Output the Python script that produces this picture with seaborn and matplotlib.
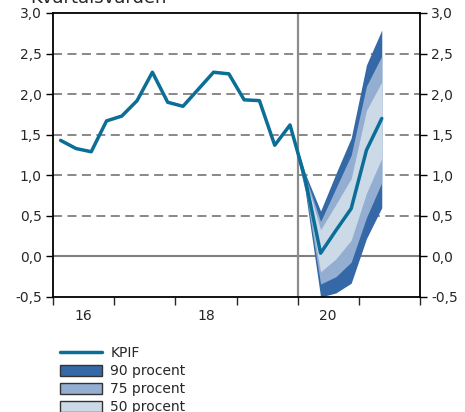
import numpy as np
import pandas as pd
import matplotlib
matplotlib.use("Agg")
import matplotlib.pyplot as plt
from matplotlib.lines import Line2D
from matplotlib.patches import Patch
import seaborn as sns

# ---- data ----
years = [2016, 2017, 2018, 2019, 2020, 2021]
kpif_quarters = ["2016Q1", "2016Q2", "2016Q3", "2016Q4", "2017Q1", "2017Q2", "2017Q3", "2017Q4",
                 "2018Q1", "2018Q2", "2018Q3", "2018Q4", "2019Q1", "2019Q2", "2019Q3", "2019Q4",
                 "2020Q1", "2020Q2", "2020Q3", "2020Q4", "2021Q1", "2021Q2"]
kpif = [1.43, 1.33, 1.29, 1.67, 1.73, 1.92, 2.27, 1.90, 1.85, 2.06, 2.27, 2.25,
        1.93, 1.92, 1.37, 1.62, 0.95, 0.04, 0.32, 0.59, 1.31, 1.70]
fan_quarters = ["2019Q4", "2020Q1", "2020Q2", "2020Q3", "2020Q4", "2021Q1", "2021Q2"]
hi90 = [1.62, 1.02, 0.56, 1.02, 1.46, 2.36, 2.79]
hi75 = [1.62, 0.99, 0.43, 0.84, 1.25, 2.10, 2.47]
hi50 = [1.62, 0.97, 0.33, 0.64, 0.96, 1.80, 2.15]
lo50 = [1.62, 0.90, -0.19, -0.03, 0.20, 0.78, 1.21]
lo75 = [1.62, 0.85, -0.34, -0.25, -0.07, 0.48, 0.91]
lo90 = [1.62, 0.80, -0.50, -0.45, -0.33, 0.22, 0.60]
year_labels = ["16", "18", "20"]
y_ticks = [-0.5, 0.0, 0.5, 1.0, 1.5, 2.0, 2.5, 3.0]
legend_labels = ["KPIF", "90 procent", "75 procent", "50 procent"]


def qpos(q):
    y, qq = q.split("Q")
    return int(y) + (int(qq) - 0.5) / 4.0


df = pd.DataFrame({"t": [qpos(q) for q in kpif_quarters], "KPIF": kpif})
ft = [qpos(q) for q in fan_quarters]

sns.set_style("white")
plt.rcParams["font.family"] = ["DejaVu Sans"]

line_c = "#0b6e96"
dark_c = "#3568a7"
mid_c = "#93aed0"
light_c = "#ccdae8"
grid_c = "#7f7f7f"

fig = plt.figure(figsize=(4.65, 4.12), dpi=100)
ax = fig.add_axes([53 / 465, 1 - 297 / 412, (420 - 53) / 465, (297 - 13) / 412])

for v in [0.5, 1.0, 1.5, 2.0, 2.5]:
    ax.axhline(v, color=grid_c, lw=1.3, ls=(0, (5, 3)), zorder=1)
ax.axhline(0, color=grid_c, lw=1.5, zorder=1)
ax.axvline(2020.0, color="#8c8c8c", lw=1.6, zorder=1)

ax.fill_between(ft, lo90, hi90, color=dark_c, lw=0, zorder=2)
ax.fill_between(ft, lo75, hi75, color=mid_c, lw=0, zorder=3)
ax.fill_between(ft, lo50, hi50, color=light_c, lw=0, zorder=4)

sns.lineplot(data=df, x="t", y="KPIF", ax=ax, color=line_c, lw=2.5, zorder=5)

ax.set_xlim(2016.0, 2022.0)
ax.set_ylim(-0.5, 3.0)
ax.set_xlabel("")
ax.set_ylabel("")

ax.set_yticks(y_ticks)
ylabels = [f"{v:.1f}".replace(".", ",") for v in y_ticks]
ax.set_yticklabels(ylabels)
ax.tick_params(axis="y", which="both", direction="out", length=5, width=1,
               left=True, right=True, labelleft=True, labelright=True,
               labelsize=10, color="black", pad=3)

ax.set_xticks([2016, 2017, 2018, 2019, 2020, 2021, 2022])
ax.set_xticklabels([""] * 7)
ax.set_xticks([2016.5, 2018.5, 2020.5], minor=True)
ax.set_xticklabels(year_labels, minor=True)
ax.tick_params(axis="x", which="major", direction="out", length=6, width=1, bottom=True)
ax.tick_params(axis="x", which="minor", length=0, labelsize=10, pad=9)

for s in ax.spines.values():
    s.set_visible(True)
    s.set_color("black")
    s.set_linewidth(1.3)

fig.text(0.064, 0.9935, "Kvartalsvärden", fontsize=13, va="baseline", ha="left")

handles = [Line2D([0], [0], color=line_c, lw=2.5),
           Patch(facecolor=dark_c, edgecolor="#333333", lw=1),
           Patch(facecolor=mid_c, edgecolor="#333333", lw=1),
           Patch(facecolor=light_c, edgecolor="#333333", lw=1)]
fig.legend(handles, legend_labels, loc="upper left", bbox_to_anchor=(0.115, 0.176),
           frameon=False, fontsize=10, handlelength=3.0, handleheight=0.9,
           labelspacing=0.28, handletextpad=0.6, borderpad=0)

fig.savefig("out.png", dpi=100)
